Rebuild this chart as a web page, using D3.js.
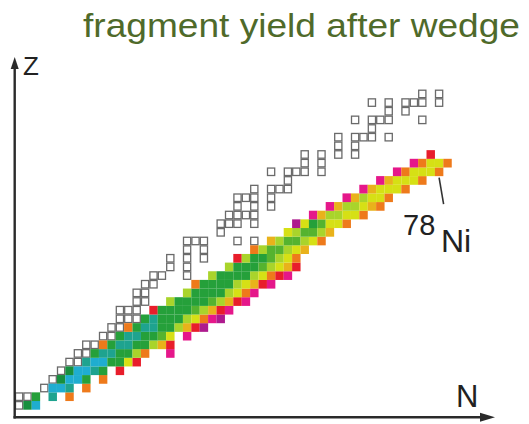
<!DOCTYPE html>
<html><head><meta charset="utf-8">
<script src="https://cdn.jsdelivr.net/npm/d3@7"></script>
<style>html,body{margin:0;padding:0;background:#fff;} svg{display:block;}</style>
</head><body>
<svg id="chart" width="529" height="424"></svg>
<script>
// ---- data ----
const titleText = "fragment yield after wedge";
const colorCodes = ["B","T","D","G","g","L","Y","A","O","R","P","M"];
const colorFills = ["#1fadd0","#1ea38f","#178f3e","#25a03a","#55b32f","#a9d42b","#d6e015","#e9b21b","#ee7a1b","#e81d2b","#e5178a","#ae1a8e"];

// measured fragments: one row per Z, first N, then one code per cell ('.' = none)
const yieldZ  = [0,1,2,3,4,5,6,7,8,9,10,11,12,13,14,15,16,17,18,19,20,21,22,23,24,25,26,27,28,29];
const yieldN0 = [0,1,3,4,5,7,8,9,11,12,14,15,17,19,20,22,24,25,27,29,31,32,34,36,38,40,42,44,46,48];
const yieldCodes = [
  "DB","G.T.O","BBT.O","DBBG.O","DBBTG.R","TBBGGYR","GTTGGLO..P","OGTTGGLAR",
  "GTTGGgY.P","OGTTGGLARM","GTGGGLYOPM","RGGGGgLARP","LGGGGgLARP","LGGGGLYOP",
  "OGGGGLYARP","LGGGGLYORP","LGGGgLYAR","RLGGgLYO","OLggLYA","ALggLYO","YLggLA",
  "MYGgYYO","PALLYYO","PALLYAO","PALYYO","PAYYYO","PAYYYO","POYYYO","POYYO","R"
];

// unobserved (empty) cells: Z rows and their N values
const emptyZ = [0,1,2,3,4,5,6,7,8,9,10,11,12,13,14,15,16,17,18,19,20,21,22,23,24,25,26,27,28,29,30,31,32,33,34,35,36];
const emptyN = [
  [-1],[-1,0],[2],[3],[4],[5,6],[6,7],[7,8],[9,10],[10,11],[11,12,13],[11,12,13],
  [13,14],[13,14],[14,15],[15,16,19],[17,19],[17,19,21],[19,21],[19,20,21,25,27],
  [23],[23,24,25,27],[24,25,26,27],[25,27,29],[25,26,27,29],[27,29,30,31],[31],
  [29,31,32,33,35],[33,35],[33,35,37,39],[37,39],[37,39,40,41,43],[41],
  [39,41,42,43,47],[43,45],[41,43,45,46,47,49],[47,49]
];

const labelIsotope = {mass: "78", sym: "Ni", N: 49, Z: 27};

// ---- drawing ----
const svg = d3.select("#chart");
const x = d3.scaleLinear().domain([0, 50]).range([23.3, 443.3]);
const y = d3.scaleLinear().domain([0, 37]).range([409.65, 89.6]);
const color = d3.scaleOrdinal().domain(colorCodes).range(colorFills);
const cw = x(1) - x(0), ch = y(0) - y(1);

// flatten yield cells
const cells = [];
yieldZ.forEach((z, i) => {
  yieldCodes[i].split("").forEach((c, k) => {
    if (c !== ".") cells.push({N: yieldN0[i] + k, Z: z, code: c});
  });
});
const empties = [];
emptyZ.forEach((z, i) => emptyN[i].forEach(n => empties.push({N: n, Z: z})));

svg.append("g").selectAll("rect").data(empties).join("rect")
  .attr("x", d => x(d.N) + 0.6).attr("y", d => y(d.Z + 1) + 0.6)
  .attr("width", cw - 1.2).attr("height", ch - 1.2)
  .attr("fill", "none").attr("stroke", "#6a6a6a").attr("stroke-width", 1.3);

svg.append("g").selectAll("rect").data(cells).join("rect")
  .attr("x", d => x(d.N)).attr("y", d => y(d.Z + 1))
  .attr("width", cw + 0.05).attr("height", ch + 0.05)
  .attr("fill", d => color(d.code));

// axes (arrows)
const axisColor = "#2a2a2a";
svg.append("line").attr("x1", 14.7).attr("y1", 418.5).attr("x2", 14.7).attr("y2", 66)
  .attr("stroke", axisColor).attr("stroke-width", 2.4);
svg.append("path").attr("d", "M14.7,57 L10.7,69 L18.7,69 Z").attr("fill", axisColor);
svg.append("line").attr("x1", 13.5).attr("y1", 417.3).attr("x2", 484).attr("y2", 417.3)
  .attr("stroke", axisColor).attr("stroke-width", 2.4);
svg.append("path").attr("d", "M495,417.3 L480,412.8 L480,421.8 Z").attr("fill", axisColor);

const font = "'Liberation Sans', Arial, Helvetica, sans-serif";
svg.append("text").attr("x", 23).attr("y", 75).text("Z")
  .attr("font-family", font).attr("font-size", 26).attr("fill", "#222");
svg.append("text").attr("x", 456).attr("y", 407).text("N")
  .attr("font-family", font).attr("font-size", 31).attr("fill", "#222");

// title
svg.append("text").attr("x", 83).attr("y", 37).text(titleText)
  .attr("font-family", font).attr("font-size", 34).attr("fill", "#4f6a2a")
  .attr("textLength", 437).attr("lengthAdjust", "spacingAndGlyphs");

// 78Ni label with leader line
const lx = x(labelIsotope.N) + cw / 2, ly = y(labelIsotope.Z);
svg.append("line").attr("x1", lx).attr("y1", ly + 1.5).attr("x2", lx + 4.5).attr("y2", ly + 28)
  .attr("stroke", "#333").attr("stroke-width", 1.6);
svg.append("text").attr("x", 403).attr("y", 235).text(labelIsotope.mass)
  .attr("font-family", font).attr("font-size", 29).attr("fill", "#222");
svg.append("text").attr("x", 441).attr("y", 251.5).text(labelIsotope.sym)
  .attr("font-family", font).attr("font-size", 32).attr("fill", "#222");
</script>
</body></html>
